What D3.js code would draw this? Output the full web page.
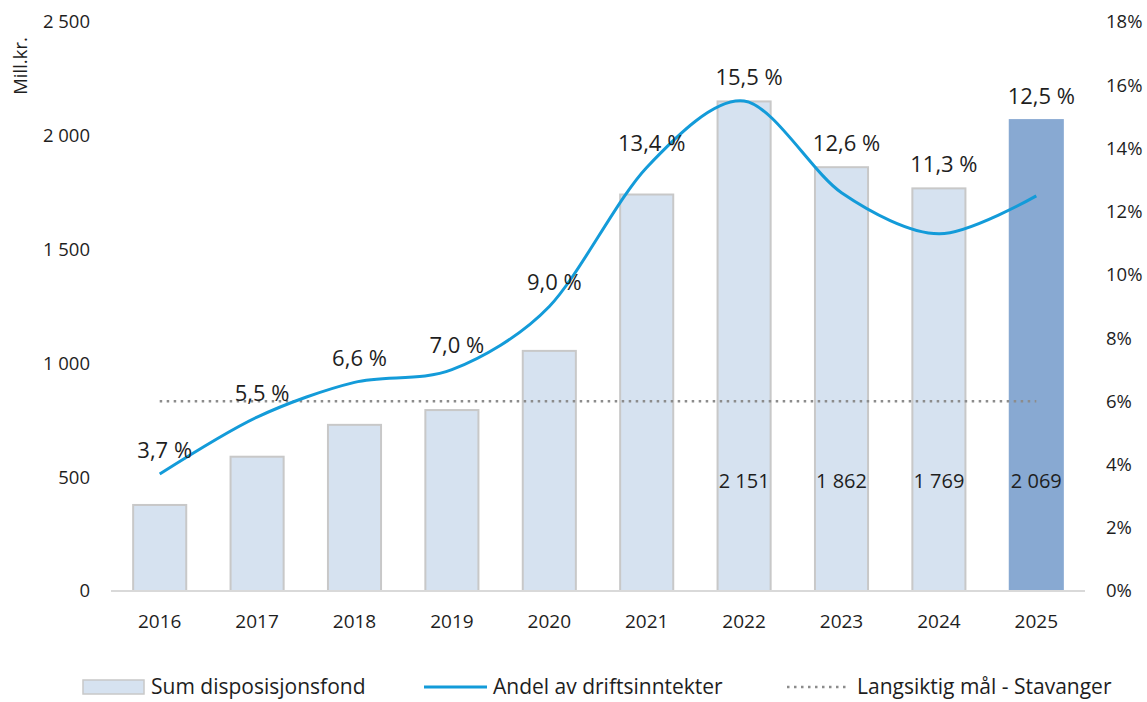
<!DOCTYPE html>
<html>
<head>
<meta charset="utf-8">
<script src="https://cdn.jsdelivr.net/npm/d3@7"></script>
<style>
  body { margin: 0; background: #fff; }
  svg text { font-family: "Open Sans", sans-serif; fill: #1e1e1e; }
</style>
</head>
<body>
<div id="chart"></div>
<script>
// data
const years = ["2016", "2017", "2018", "2019", "2020", "2021", "2022", "2023", "2024", "2025"];
const fund = [378, 590, 730, 795, 1055, 1742, 2151, 1862, 1769, 2069];
const share = [3.7, 5.5, 6.6, 7.0, 9.0, 13.4, 15.5, 12.6, 11.3, 12.5];
const target = 6;
const labelledBars = ["2022", "2023", "2024", "2025"];
const highlightYear = "2025";
const leftTicks = [0, 500, 1000, 1500, 2000, 2500];
const rightTicks = [0, 2, 4, 6, 8, 10, 12, 14, 16, 18];
const legendNames = ["Sum disposisjonsfond", "Andel av driftsinntekter", "Langsiktig mål - Stavanger"];

const width = 1147, height = 702;
const svg = d3.select("#chart").append("svg")
    .attr("width", width)
    .attr("height", height);

const locale = d3.formatLocale({ decimal: ",", thousands: " ", grouping: [3], currency: ["", ""] });
const fmtInt = locale.format(",d");
const fmtPct = v => locale.format(".1f")(v) + " %";

// scales
const x = d3.scaleBand()
    .domain(years)
    .range([111, 1085])
    .paddingInner(0.455)
    .paddingOuter(0.2275);

const yLeft = d3.scaleLinear().domain([0, 2500]).range([591, 22]);
const yRight = d3.scaleLinear().domain([0, 18]).range([591, 22]);
const cx = d => x(d) + x.bandwidth() / 2;

// left axis labels
svg.append("g").selectAll("text")
    .data(leftTicks)
    .join("text")
    .attr("x", 90)
    .attr("y", d => yLeft(d))
    .attr("dy", "0.35em")
    .attr("text-anchor", "end")
    .style("font-size", "18.5px")
    .text(d => fmtInt(d));

// right axis labels
svg.append("g").selectAll("text")
    .data(rightTicks)
    .join("text")
    .attr("x", 1106)
    .attr("y", d => yRight(d))
    .attr("dy", "0.35em")
    .style("font-size", "18.5px")
    .text(d => d + "%");

svg.append("text")
    .attr("transform", "translate(21,66) rotate(-90)")
    .attr("text-anchor", "middle")
    .attr("dy", "0.35em")
    .style("font-size", "18.5px")
    .text("Mill.kr.");

// bars
svg.append("g").selectAll("rect")
    .data(years)
    .join("rect")
    .attr("x", d => x(d))
    .attr("width", x.bandwidth())
    .attr("y", (d, i) => yLeft(fund[i]))
    .attr("height", (d, i) => yLeft(0) - yLeft(fund[i]))
    .attr("fill", d => d === highlightYear ? "#88a9d2" : "#d6e2f0")
    .attr("stroke", d => d === highlightYear ? "#88a9d2" : "#c8c8c8")
    .attr("stroke-width", 2);

// x axis line
svg.append("line")
    .attr("x1", 111).attr("x2", 1085)
    .attr("y1", yLeft(0)).attr("y2", yLeft(0))
    .attr("stroke", "#d9d9d9")
    .attr("stroke-width", 2);

svg.append("g").selectAll("text")
    .data(years)
    .join("text")
    .attr("x", d => cx(d))
    .attr("y", 621)
    .attr("dy", "0.35em")
    .attr("text-anchor", "middle")
    .style("font-size", "19px")
    .text(d => d);

// bar value labels
svg.append("g").selectAll("text")
    .data(years.filter(d => labelledBars.includes(d)))
    .join("text")
    .attr("x", d => cx(d))
    .attr("y", yLeft(0) - 110)
    .attr("dy", "0.35em")
    .attr("text-anchor", "middle")
    .style("font-size", "20px")
    .text(d => fmtInt(fund[years.indexOf(d)]));

// target line
svg.append("line")
    .attr("x1", cx(years[0])).attr("x2", cx(years[years.length - 1]))
    .attr("y1", yRight(target)).attr("y2", yRight(target))
    .attr("stroke", "#8c8c8c")
    .attr("stroke-width", 2.5)
    .attr("stroke-dasharray", "2.5 4.5");

// share line
const line = d3.line()
    .x((d, i) => cx(years[i]))
    .y(d => yRight(d))
    .curve(d3.curveCardinal.tension(0.1));

svg.append("path")
    .datum(share)
    .attr("d", line)
    .attr("fill", "none")
    .attr("stroke", "#139bd9")
    .attr("stroke-width", 3);

// share labels
svg.append("g").selectAll("text")
    .data(share)
    .join("text")
    .attr("x", (d, i) => cx(years[i]) + 5)
    .attr("y", (d, i) => Math.min(yRight(d), yLeft(fund[i])) - 24)
    .attr("dy", "0.35em")
    .attr("text-anchor", "middle")
    .style("font-size", "22px")
    .text(d => fmtPct(d));

// legend
const legY = 687;
const leg = svg.append("g").style("font-size", "21px");
leg.append("rect")
    .attr("x", 83).attr("y", legY - 7).attr("width", 61).attr("height", 14)
    .attr("fill", "#d6e2f0").attr("stroke", "#c8c8c8").attr("stroke-width", 1.5);
leg.append("text").attr("x", 151).attr("y", legY).attr("dy", "0.35em").text(legendNames[0]);

leg.append("line")
    .attr("x1", 424).attr("x2", 487).attr("y1", legY).attr("y2", legY)
    .attr("stroke", "#139bd9").attr("stroke-width", 3);
leg.append("text").attr("x", 493).attr("y", legY).attr("dy", "0.35em").text(legendNames[1]);

leg.append("line")
    .attr("x1", 787).attr("x2", 847).attr("y1", legY).attr("y2", legY)
    .attr("stroke", "#8c8c8c").attr("stroke-width", 2.5)
    .attr("stroke-dasharray", "2.5 4.5");
leg.append("text").attr("x", 857).attr("y", legY).attr("dy", "0.35em").text(legendNames[2]);
</script>
</body>
</html>
